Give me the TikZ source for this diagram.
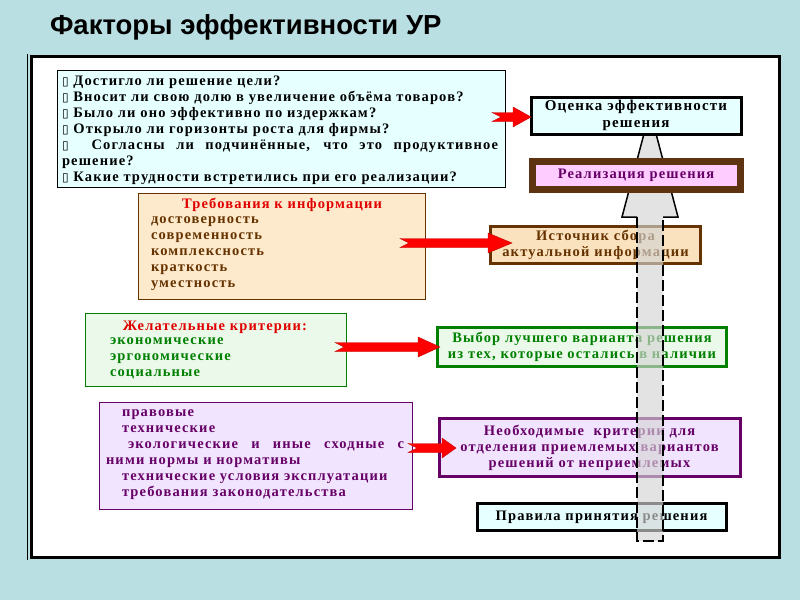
\documentclass[tikz,border=0pt]{standalone}
\usepackage{fontspec}
\setmainfont{Liberation Serif}
\newfontfamily\titlefont{Liberation Sans}
\newfontfamily\boxglyphfont{DejaVu Sans}
\newfontfamily\slidefont{Liberation Serif}[LetterSpace=8]
\usetikzlibrary{calc}
\definecolor{bg}{HTML}{B9DFE3}
\definecolor{cyanfill}{HTML}{E6FFFF}
\definecolor{peachA}{HTML}{FDE9CB}
\definecolor{peachB}{HTML}{FBE2BE}
\definecolor{brownc}{HTML}{663300}
\definecolor{darkbrown}{HTML}{5E3311}
\definecolor{pinkfill}{HTML}{FFCCFF}
\definecolor{purplec}{HTML}{660066}
\definecolor{greenc}{HTML}{008000}
\definecolor{greenfill}{HTML}{EAF9EA}
\definecolor{lavfill}{HTML}{F1E4FF}
\definecolor{redt}{HTML}{E00000}
\definecolor{grayarr}{HTML}{D4D4D4}
\newcommand\qb{{\boxglyphfont\fontsize{12}{12}\selectfont ▯}}
\newcommand\redarrow[3]{%
  \path[redarr] let \p1=(#1), \p2=(#2) in
   (\x1,\y1+4.5pt) -- (\x2-#3pt,\y1+4.5pt) -- (\x2-#3pt,\y1+10pt) -- (\x2,\y1)
   -- (\x2-#3pt,\y1-10pt) -- (\x2-#3pt,\y1-4.5pt) -- (\x1,\y1-4.5pt) -- (\x1+9pt,\y1) -- cycle;}
\tikzset{
  txt/.style={font=\slidefont\bfseries\fontsize{14.5}{16}\selectfont},
  bigtxt/.style={font=\slidefont\bfseries\fontsize{15}{17}\selectfont},
  thinbox/.style={draw=#1, line width=0.8pt},
  thickbox/.style={draw=#1, line width=3pt},
  redarr/.style={fill=red, draw=red!75!black, line width=0.4pt},
}
\begin{document}
\begin{tikzpicture}[x=1pt,y=-1pt, every node/.style={inner sep=0pt, outer sep=0pt}]
\useasboundingbox (0,0) rectangle (800,600);
\fill[bg] (0,0) rectangle (800,600);
\node[anchor=west, font=\titlefont\bfseries\fontsize{27.5}{30}\selectfont] (title) at (50,27) {Факторы эффективности УР};
% frame
\draw[line width=0.8pt] (27.5,54) -- (27.5,560);
\draw[fill=white, line width=3pt] (31,56) rectangle (779,557);

% questions box
\node[thinbox=black, fill=cyanfill, minimum width=448pt, minimum height=117pt] (q) at (281,128.5) {};
\node[txt, anchor=west, align=left] (qt) at (62,130) {\qb\ Достигло ли решение цели?\\
\qb\ Вносит ли свою долю в увеличение объёма товаров?\\
\qb\ Было ли оно эффективно по издержкам?\\
\qb\ Открыло ли горизонты роста для фирмы?\\
\makebox[436pt][s]{\qb\ \ Согласны ли подчинённые, что это продуктивное}\\
решение?\\
\qb\ Какие трудности встретились при его реализации?};

% information box
\node[thinbox=brownc, fill=peachA, minimum width=287pt, minimum height=106pt] (inf) at (282,246) {};
\node[txt, text=redt] (inft) at (282,205) {Требования к информации};
\node[txt, text=brownc, anchor=west, align=left] (infl) at (151,254) {достоверность\\современность\\комплексность\\краткость\\уместность};

% desirable criteria box
\node[thinbox=greenc, fill=greenfill, minimum width=261pt, minimum height=73pt] (des) at (216,349.5) {};
\node[txt, text=redt] (dest) at (215,327) {Желательные критерии:};
\node[txt, text=greenc, anchor=west, align=left] (desl) at (110,358) {экономические\\эргономические\\социальные};

% norms box
\node[thinbox=purplec, fill=lavfill, minimum width=313pt, minimum height=107pt] (nor) at (256,455.5) {};
\node[txt, text=purplec, anchor=west, align=left] (norl) at (106,455) {\hspace{16pt}правовые\\
\hspace{16pt}технические\\
\hspace{22pt}\makebox[276pt][s]{экологические и иные сходные с}\\
ними нормы и нормативы\\
\hspace{16pt}технические условия эксплуатации\\
\hspace{16pt}требования законодательства};

% right lower boxes
\node[thickbox=brownc, fill=peachB, minimum width=210pt, minimum height=37pt, txt, text=brownc, align=center] (src) at (595.5,244.5) {Источник сбора\\актуальной информации};
\node[thickbox=greenc, fill=greenfill, minimum width=289pt, minimum height=39pt, txt, text=greenc, align=center] (best) at (582,346.5) {Выбор лучшего варианта решения\\из тех, которые остались в наличии};
\node[thickbox=purplec, fill=lavfill, minimum width=301pt, minimum height=58pt, txt, text=purplec, align=center] (need) at (589.5,447.5) {Необходимые\ \ критерии для\\отделения приемлемых вариантов\\решений от неприемлемых};
\node[thickbox=black, fill=cyanfill, minimum width=249pt, minimum height=27pt, txt, align=center] (rules) at (601.5,517) {Правила принятия решения};

% big gray up arrow
\coordinate (gbot) at (650,541);
\coordinate (gtop) at (650,111);
\path let \p1=(gbot), \p2=(gtop) in
  [fill=grayarr, fill opacity=0.65] (\x1-13pt,\y1) -- (\x1+13pt,\y1) -- (\x1+13pt,\y2-106pt) -- (\x1+28pt,\y2-106pt)
  -- (\x2,\y2) -- (\x1-28pt,\y2-106pt) -- (\x1-13pt,\y2-106pt) -- cycle;
\draw[line width=1.5pt, dash pattern=on 11pt off 4pt] let \p1=(gbot), \p2=(gtop) in
  (\x1-13pt,\y2-106pt) -- (\x1-13pt,\y1) -- (\x1+13pt,\y1) -- (\x1+13pt,\y2-106pt);
\draw[line width=1.5pt] let \p1=(gbot), \p2=(gtop) in
  (\x1+13pt,\y2-106pt) -- (\x1+28pt,\y2-106pt) -- (\x2,\y2) -- (\x1-28pt,\y2-106pt) -- (\x1-13pt,\y2-106pt);

% top right boxes
\node[thickbox=black, fill=cyanfill, minimum width=210pt, minimum height=37pt, bigtxt, align=center] (eval) at (636,115.5) {Оценка эффективности\\решения};
\node[draw=darkbrown, line width=7pt, fill=pinkfill, minimum width=208pt, minimum height=28pt, txt, text=purplec] (impl) at (636,175.5) {Реализация решения};

% red arrows
\coordinate (a1s) at (492,117); \coordinate (a1e) at (531,117);
\coordinate (a2s) at (400,243); \coordinate (a2e) at (512,243);
\coordinate (a3s) at (335,347); \coordinate (a3e) at (440,347);
\coordinate (a4s) at (408,448); \coordinate (a4e) at (456,448);
\redarrow{a1s}{a1e}{18}
\redarrow{a2s}{a2e}{24}
\redarrow{a3s}{a3e}{22}
\redarrow{a4s}{a4e}{14}
\end{tikzpicture}
\end{document}
